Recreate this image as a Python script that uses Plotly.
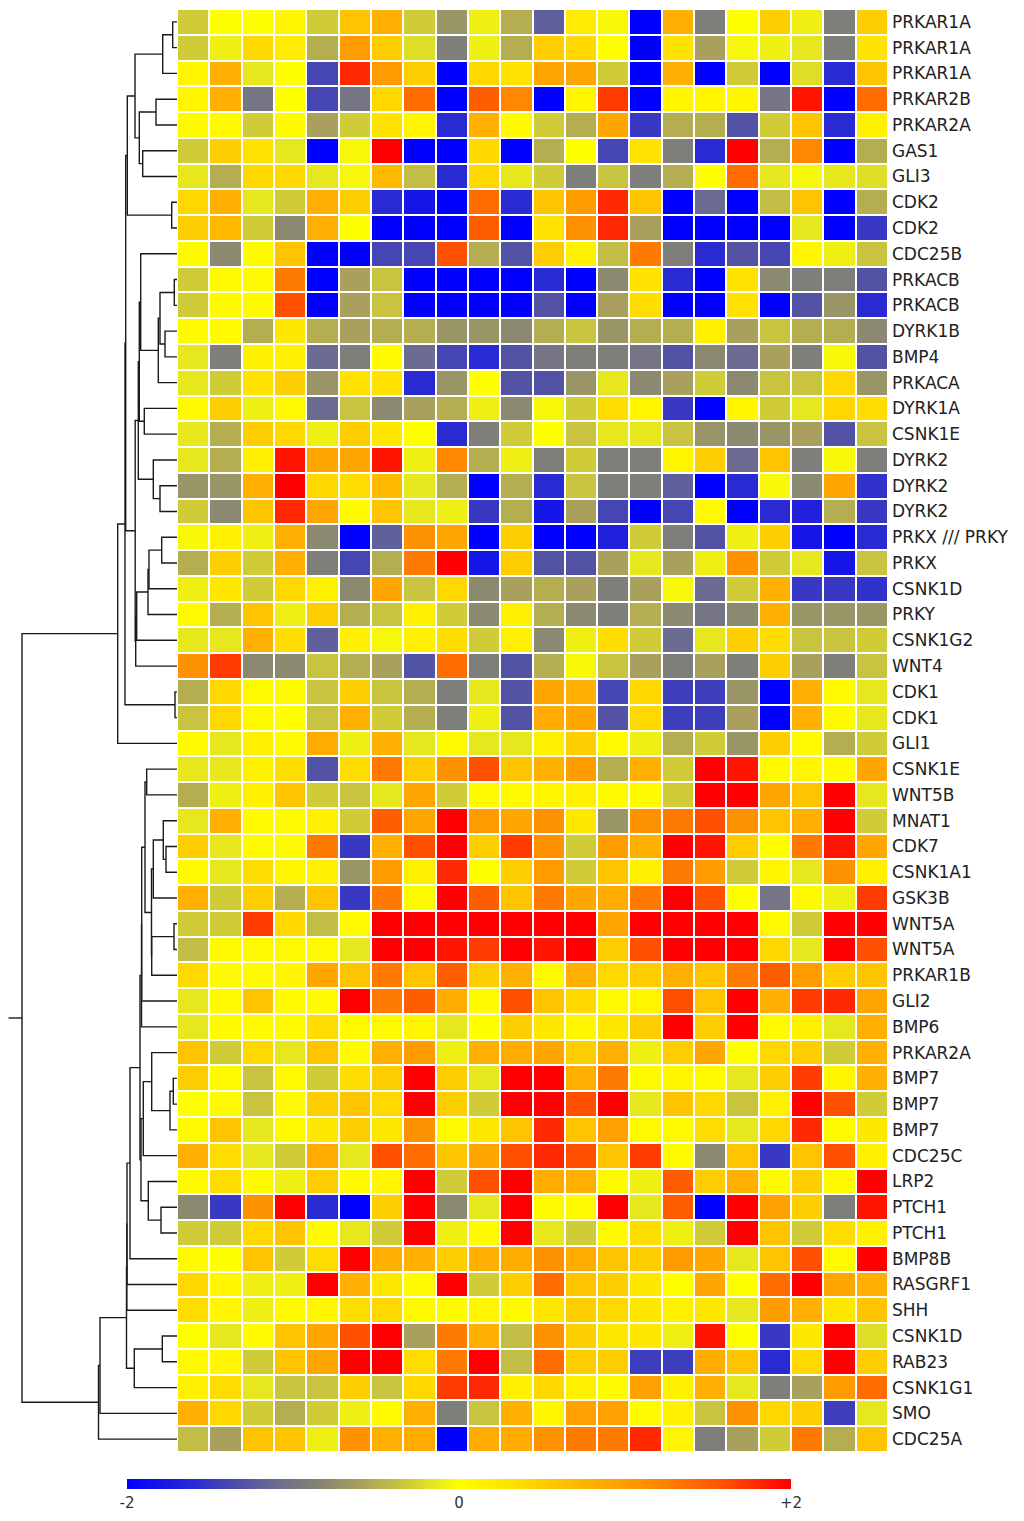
import plotly.graph_objects as go

# ---------------- data ----------------
GENES = ["PRKAR1A", "PRKAR1A", "PRKAR1A", "PRKAR2B", "PRKAR2A", "GAS1", "GLI3", "CDK2", "CDK2",
         "CDC25B", "PRKACB", "PRKACB", "DYRK1B", "BMP4", "PRKACA", "DYRK1A", "CSNK1E", "DYRK2",
         "DYRK2", "DYRK2", "PRKX /// PRKY", "PRKX", "CSNK1D", "PRKY", "CSNK1G2", "WNT4", "CDK1",
         "CDK1", "GLI1", "CSNK1E", "WNT5B", "MNAT1", "CDK7", "CSNK1A1", "GSK3B", "WNT5A", "WNT5A",
         "PRKAR1B", "GLI2", "BMP6", "PRKAR2A", "BMP7", "BMP7", "BMP7", "CDC25C", "LRP2", "PTCH1",
         "PTCH1", "BMP8B", "RASGRF1", "SHH", "CSNK1D", "RAB23", "CSNK1G1", "SMO", "CDC25A"]

SAMPLES = list(range(22))

Z = [
    [-0.3, 0, 0, 0.1, -0.3, 0.6, 0.8, -0.3, -0.7, -0.1, -0.5, -1.2, 0.2, -0.05, -2, 0.8, -0.9, 0, 0.5, -0.1, -0.9, 0.5],
    [-0.3, -0.1, 0.4, 0.2, -0.5, 1.0, 0.5, -0.2, -0.9, -0.1, -0.5, 0.5, 0.4, 0, -2, 0.3, -0.6, -0.05, -0.1, -0.15, -0.9, 0.3],
    [0.1, 0.8, -0.15, 0, -1.4, 1.8, 1.0, 0.5, -2, 0.4, 0.3, 0.9, 0.9, -0.3, -2, 0.8, -2, -0.3, -2, -0.2, -1.6, 0.6],
    [0.1, 0.8, -1.0, 0, -1.4, -1.0, 0.4, 1.4, -2, 1.5, 1.2, -2, 0.1, 1.7, -2, 0.1, 0.1, 0.1, -1.0, 1.9, -2, 1.4],
    [0.05, 0.05, -0.3, 0.05, -0.6, -0.3, 0.3, 0.1, -1.6, 0.8, 0.05, -0.3, -0.5, 0.9, -1.5, -0.5, -0.5, -1.3, -0.3, 0.6, -1.6, 0.15],
    [-0.3, 0.5, 0.3, -0.15, -2, -0.05, 2.0, -2, -2, 0.4, -2, -0.5, 0, -1.4, 0.3, -0.9, -1.6, 2.0, -0.5, 1.2, -2, -0.5],
    [-0.15, -0.5, 0.4, 0.4, -0.15, -0.05, 0.7, -0.4, -1.6, 0.4, -0.15, -0.3, -0.9, -0.35, -0.9, -0.5, 0, 1.4, -0.15, -0.05, -0.15, -0.2],
    [0.4, 0.8, -0.15, -0.3, 0.8, 0.5, -1.6, -1.8, -2, 1.4, -1.6, 0.6, 1.0, 1.8, 0.6, -2, -1.1, -2, -0.4, 0.6, -2, -0.5],
    [0.5, 0.7, -0.3, -0.8, 0.8, 0, -2, -2, -2, 1.5, -2, 0.3, 1.1, 1.8, -0.6, -2, -2, -2, -2, -0.15, -2, -1.5],
    [0.05, -0.8, 0.05, 0.6, -2, -2, -1.4, -1.4, 1.6, -0.5, -1.3, 0.5, 0.15, -0.4, 1.3, -0.9, -1.6, -1.3, -1.4, 0.1, -0.1, -0.35],
    [-0.3, 0.05, 0.05, 1.3, -2, -0.6, -0.35, -2, -2, -2, -2, -1.6, -2, -0.8, 0.3, -1.6, -2, 0.3, -0.8, -0.9, -0.9, -1.3],
    [-0.3, 0.05, 0.05, 1.6, -2, -0.6, -0.35, -2, -2, -2, -2, -1.3, -2, -0.6, 0.35, -2, -2, 0.3, -2, -1.3, -0.7, -1.6],
    [0.05, 0.05, -0.5, 0.25, -0.5, -0.6, -0.5, -0.5, -0.7, -0.7, -0.8, -0.5, -0.35, -0.7, -0.5, -0.5, 0.15, -0.6, -0.35, -0.5, -0.5, -0.8],
    [-0.15, -0.9, 0.15, 0.15, -1.1, -0.9, 0.05, -1.1, -1.4, -1.6, -1.3, -1.0, -0.9, -0.9, -1.0, -1.3, -0.8, -1.1, -0.6, -0.9, -0.05, -1.3],
    [-0.15, -0.3, 0.3, 0.5, -0.7, 0.3, 0.3, -1.6, -0.7, 0, -1.3, -1.3, -0.7, -0.15, -0.8, -0.6, -0.3, -0.8, -0.35, -0.35, 0.4, -0.7],
    [0.05, 0.5, -0.1, 0.05, -1.1, -0.35, -0.8, -0.6, -0.5, -0.1, -0.8, -0.05, -0.3, 0.35, 0.1, -1.5, -2, 0.1, -0.3, -0.15, 0.4, 0.35],
    [-0.15, -0.5, 0.5, 0.4, -0.1, 0.5, 0.25, 0, -1.6, -0.9, -0.3, 0, -0.35, -0.15, -0.15, -0.35, -0.7, -0.8, -0.7, -0.6, -1.3, -0.35],
    [-0.15, -0.5, 0.15, 1.9, 0.9, 0.9, 1.9, -0.1, 1.2, -0.5, -0.1, -0.9, -0.3, -0.9, -0.9, 0.1, 0.5, -1.1, 0.6, -0.9, -0.05, -0.9],
    [-0.7, -0.7, 0.8, 2.0, 0.4, 0.35, 0.7, -0.15, -0.5, -2, -0.5, -1.6, -0.35, -0.9, -0.9, -1.2, -2, -1.6, -0.05, -0.8, 0.9, -1.55],
    [-0.3, -0.8, 0.6, 1.8, 0.9, 0.05, 0.6, -0.15, -0.1, -1.5, -0.5, -1.8, -0.6, -1.4, -2, -1.4, 0.05, -2, -1.6, -1.7, -0.5, -1.5],
    [-0.05, 0.15, -0.1, 0.8, -0.8, -2, -1.2, 1.1, 0.9, -2, 0.5, -2, -2, -1.7, -0.3, -0.9, -1.3, -0.1, 0.5, -1.8, -2, -1.6],
    [-0.5, 0.5, -0.3, 0.8, -0.9, -1.4, -0.5, 1.3, 2.0, -1.8, 0.5, -1.3, -1.3, -0.6, -0.15, -0.6, -0.1, 1.1, -0.3, -0.15, -1.8, -0.35],
    [-0.1, 0.25, -0.3, 0.4, 0.15, -0.8, 0.9, -0.35, 0.4, -0.8, -0.6, -0.5, -0.6, -0.9, -0.6, -0.05, -1.1, -0.3, 0.8, -1.5, -1.5, -1.55],
    [0.05, -0.5, 0.6, -0.1, 0.5, -0.5, -0.35, 0.15, -0.3, -0.8, 0.15, -0.5, -0.8, -0.9, -0.5, -0.8, -1.0, -0.8, 0.8, -0.7, -0.7, -0.7],
    [-0.15, -0.15, 0.8, 0.35, -1.2, 0.15, -0.05, 0.15, 0.35, -0.3, 0.15, -0.8, -0.1, 0.35, -0.3, -1.1, -0.15, 0.5, 0.35, -0.35, -0.35, -0.3],
    [1.1, 1.7, -0.8, -0.8, -0.35, -0.5, -0.6, -1.3, 1.4, -0.9, -1.3, -0.5, -0.05, -0.35, -0.6, -0.9, -0.6, -0.9, 0.5, -0.6, -0.9, -0.35],
    [-0.5, 0.4, 0.05, 0.05, -0.35, 0.5, -0.35, -0.5, -0.9, -0.15, -1.3, 0.9, 0.8, -1.4, 0.4, -1.45, -1.45, -0.7, -2, 0.8, 0.05, -0.15],
    [-0.35, 0.4, 0.05, 0, -0.35, 0.8, -0.3, -0.5, -0.9, -0.1, -1.3, 0.85, 0.9, -1.3, 0.4, -1.45, -1.45, -0.6, -2, 0.8, 0.05, -0.15],
    [0.05, -0.15, 0.15, 0.05, 0.85, -0.1, 0.8, -0.15, 0.05, -0.15, -0.15, 0.15, 0.5, 0.05, -0.1, -0.5, -0.3, -0.7, 0.5, 0.05, -0.5, -0.3],
    [-0.15, -0.15, 0.15, 0.35, -1.3, 0.35, 1.3, 0.5, 1.1, 1.6, 0.6, 0.8, 1.0, -0.5, 0.8, -0.3, 2.0, 1.9, 0.05, 0.1, 0.05, 0.9],
    [-0.5, -0.1, 0.15, 0.6, -0.3, -0.35, -0.15, 0.9, -0.3, 0.05, 0.05, 0.1, 0.15, 0.05, 0.05, -0.3, 2.0, 2.0, 0.9, 0.6, 2.0, -0.15],
    [-0.15, 0.8, 0.05, 0.05, 0.15, -0.3, 1.5, 0.9, 2.0, 1.0, 0.9, 1.1, 0.25, -0.7, 1.1, 1.3, 1.6, 1.1, 0.6, 0.8, 2.0, -0.3],
    [0.5, -0.15, 0.05, 0.05, 1.3, -1.5, 0.8, 1.6, 2.0, 0.5, 1.7, 1.1, -0.3, 1.0, 0.8, 2.0, 1.9, 0.5, 0, 1.3, 1.9, 0.9],
    [0.05, -0.15, 0.35, 0.1, 0.15, -0.7, 1.0, 0.15, 1.8, 0, 0.5, 1.0, -0.3, 0.6, 0.15, 1.3, 1.0, -0.3, 0.1, -0.15, 1.1, 0.15],
    [0.8, -0.3, 0.5, -0.5, 0.6, -1.5, 1.3, 0.05, 2.0, 1.5, 0.6, 1.3, 0.9, 0.85, 1.3, 2.0, 1.6, 0, -1.0, 0.05, -0.1, 1.7],
    [-0.3, -0.3, 1.7, 0.4, -0.4, 0.05, 2, 2, 2, 2, 2, 2, 2, 0.9, 2, 2, 2, 2, 0.05, -0.3, 2, 2],
    [-0.4, 0.05, 0.05, 0.05, 0.05, -0.15, 2, 2, 1.9, 1.7, 2, 1.9, 2, 0.5, 1.6, 2, 2, 2, 0.4, -0.15, 2, 1.6],
    [0.4, 0.05, 0.05, 0.1, 0.9, 0.6, 1.3, 0.6, 1.5, 0.5, 0.8, 0.05, 0.8, 0.4, 0.5, 0.8, 0.6, 1.3, 1.5, 1.0, 0.5, 0.6],
    [-0.15, 0.05, 0.6, 0.05, 0.05, 2.0, 1.3, 1.5, 0.85, 0.05, 1.6, 0.6, 0.4, 0.05, 0.1, 1.6, 0.6, 2.0, 0.8, 1.7, 1.8, 0.9],
    [-0.15, 0.05, 0.05, 0.05, 0.35, 0.05, 0.05, 0.1, -0.15, 0, 0.5, 0.25, 0.1, 0.25, 0.5, 2.0, 0.5, 2.0, 0.05, 0.15, -0.15, 0.8],
    [0.6, -0.3, 0.4, -0.15, 0.6, 0.05, 0.8, 1.0, -0.1, 0.8, 0.85, 0.9, 0.5, 0.8, -0.1, 0.5, 0.9, 0, 0.4, 0.5, -0.3, 0.8],
    [0.5, 0.05, -0.35, 0.05, -0.3, 0.35, 0.5, 2.0, 0.5, -0.15, 2.0, 2.0, 0.8, 1.3, 0.05, 0.1, 0.05, -0.15, 0.5, 1.7, 0.1, 0.8],
    [0, 0.05, -0.35, 0.05, 0.5, 0.6, 0.4, 2.0, 0.5, -0.3, 2.0, 2.0, 1.6, 2.0, -0.15, 0.6, 0.4, -0.35, 0.15, 2.0, 1.6, -0.3],
    [0.05, 0.6, -0.15, 0.05, 0.25, 0.5, 0.25, 1.1, 0.05, 0.25, 0.6, 1.8, 0.6, 0.95, 0.05, 0.05, 0.35, -0.15, 0.4, 1.8, 0.05, 0.25],
    [0.8, 0.35, -0.15, -0.3, 0.85, -0.15, 1.6, 1.4, 0.6, 0.9, 1.6, 1.8, 1.6, 0.6, 1.7, 0.05, -0.8, 0.6, -1.5, 0.6, 1.6, 0.15],
    [0.05, 0.35, 0.05, -0.1, 0.5, 0.05, 0.1, 2.0, -0.3, 1.6, 2.0, 0.85, 0.8, 0.05, -0.1, 1.5, 0.5, 0.8, 0.05, 0.5, 0.05, 2.0],
    [-0.8, -1.5, 1.1, 2.0, -1.6, -2, 0.5, 2.0, -0.8, -0.15, 2.0, 0.05, 0.05, 2.0, -0.15, 1.5, -2, 2.0, 0.95, 0.5, -0.9, 1.9],
    [-0.3, -0.3, 0.4, 0.6, 0.05, -0.15, -0.3, 2.0, -0.1, 0.05, 2.0, -0.15, -0.3, 0.05, 0.35, -0.1, -0.3, 2.0, 0.6, -0.3, 0.35, 0.15],
    [0.05, 0, 0.6, -0.3, 0.35, 2.0, 0.8, 0.8, 0.5, 0.8, 0.85, 1.1, 0.85, 0.6, 0.5, 1.0, 0.9, -0.15, 0.6, 1.6, 0.05, 2.0],
    [0.4, 0.1, -0.1, -0.1, 2.0, 0.8, 0.25, 0.05, 2.0, -0.3, 0.5, 1.4, 0.6, 0.5, 0.25, 0, 0.9, 0, 1.4, 2.0, 0.9, 0.8],
    [0.35, 0.1, -0.1, 0.05, 0.1, 0.35, 0.4, 0.05, 0.05, 0.1, 0.05, 0.25, 0.5, 0.4, 0.25, 0.15, 0.25, -0.15, 1.0, 0.8, 0.25, 0.6],
    [0, -0.15, 0.05, 0.6, 0.9, 1.6, 2.0, -0.6, 1.3, 0.8, -0.4, 1.1, 0.5, 0.25, 0.25, -0.1, 1.9, 0, -1.5, 0.25, 2.0, -0.2],
    [0.05, 0.1, -0.3, 0.6, 0.9, 2.0, 2.0, 0.35, 1.3, 2.0, -0.4, 1.4, 0.5, 0.5, -1.45, -1.45, 0.85, 0.6, -1.6, 0.4, 2.0, 0.5],
    [0.15, 0.35, -0.15, -0.35, -0.35, 0.5, -0.35, 0.4, 1.7, 1.8, 0.15, 0.4, 0.15, 0.05, 0.95, 0.15, 0.8, -0.15, -0.9, -0.6, 1.0, 1.4],
    [0.8, 0.4, -0.3, -0.5, -0.3, -0.1, 0.05, 0.8, -0.9, -0.35, 0.8, 0.1, 0.95, 0.95, 0.05, 0.15, -0.35, 1.1, 0.4, 0.5, -1.45, -0.15],
    [-0.4, -0.6, 0.6, 0.6, -0.1, 1.1, 0.8, 0.85, -2, 0.85, 0.85, 1.1, 1.3, 1.3, 1.8, 0.1, -0.9, -0.6, -0.3, 1.3, -0.5, 0.6],
]

# Dendrogram merges: (node name, left child, right child, merge distance).
# Leaves are referenced by 0-based row index.
MERGES = [
    ("n12", 0, 1, 4.3), ("nA", "n12", 2, 14.3),
    ("n45", 3, 4, 21.0), ("n67", 5, 6, 34.3), ("nB", "n45", "n67", 37.7),
    ("nAB", "nA", "nB", 42.0), ("n89", 7, 8, 5.3), ("nP1", "nAB", "n89", 49.7),
    ("n1112", 10, 11, 2.7), ("n1314", 12, 13, 12.0), ("nC1", "n1112", "n1314", 17.0),
    ("nC2", "nC1", 14, 18.7), ("nC3", 9, "nC2", 36.3), ("n1617", 15, 16, 32.7),
    ("nC5", "nC3", "n1617", 37.7), ("n1920", 18, 19, 17.0), ("nDY", 17, "n1920", 23.7),
    ("nC6", "nC5", "nDY", 38.7), ("n2122", 20, 21, 15.3), ("nX1", "n2122", 22, 28.0),
    ("nX", "nX1", 23, 29.0), ("nR2", "nX", 24, 40.3), ("nR3", "nR2", 25, 41.3),
    ("nR", "nC6", "nR3", 41.8), ("nT1", "nP1", "nR", 51.3), ("n2728", 26, 27, 2.0),
    ("nT", "nT1", "n2728", 52.0), ("nTop", "nT", 28, 59.3),
    ("n3031", 29, 30, 30.3), ("n3334", 32, 33, 11.0), ("nL2", 31, "n3334", 13.7),
    ("nL3", "nL2", 34, 23.7), ("n3637", 35, 36, 3.0), ("nW", "n3637", 37, 25.3),
    ("nL4", "nL3", "nW", 25.5), ("nU38", "n3031", "nL4", 32.0), ("nU39", "nU38", 38, 35.3),
    ("nU40", "nU39", 39, 35.5), ("n4243", 41, 42, 3.7), ("n44", "n4243", 43, 7.0),
    ("nLB1", 40, "n44", 25.3), ("nLB2", "nLB1", 44, 33.7), ("n4748", 46, 47, 16.0),
    ("nLB3", 45, "n4748", 28.7), ("nLB", "nLB2", "nLB3", 36.0), ("nM0", "nU40", "nLB", 37.0),
    ("nM1", "nM0", 48, 47.0), ("nN1", "nM1", 49, 50.0), ("nN2", "nN1", 50, 50.2),
    ("n5253", 51, 52, 14.7), ("n54", "n5253", 53, 42.7), ("nN3", "nN2", "n54", 50.5),
    ("nB1", "nN3", 54, 77.0), ("nB2", "nB1", 55, 78.5),
    ("root", "nTop", "nB2", 155.0),
]
ROOT_TAIL = 168.5

CB_TICKVALS = [-2, 0, 2]
CB_TICKTEXT = ["-2", "0", "+2"]

# ---------------- layout geometry (page pixels; the page body adds an 8px offset) ----------------
PAGE_OFF = 8
W, H = 1024 - 2 * PAGE_OFF, 1521 - 2 * PAGE_OFF
HM_LEFT, HM_RIGHT = 177 - PAGE_OFF, 888 - PAGE_OFF
HM_TOP, HM_BOTTOM = 9 - PAGE_OFF, 1452 - PAGE_OFF
CB_LEFT, CB_RIGHT, CB_TOP = 127 - PAGE_OFF, 791 - PAGE_OFF, 1479 - PAGE_OFF

COLORSCALE = [
    [0.0, "#0000ff"], [0.1, "#2a2ad2"], [0.17, "#5050a8"], [0.22, "#6a6a94"],
    [0.28, "#808078"], [0.35, "#a8a05c"], [0.42, "#ccc83c"], [0.47, "#ecec18"],
    [0.5, "#ffff00"], [0.58, "#ffe000"], [0.65, "#ffc400"], [0.72, "#ffa800"],
    [0.8, "#ff8800"], [0.9, "#ff5000"], [1.0, "#ff0000"],
]

assert len(Z) == len(GENES) and all(len(r) == len(SAMPLES) for r in Z)

# ---------------- dendrogram segments ----------------
pos = {}


def get(ref):
    if isinstance(ref, int):
        return float(ref), 0.0
    return pos[ref]


dx, dy = [], []
for name, a, b, h in MERGES:
    ya, ha = get(a)
    yb, hb = get(b)
    dx += [ha, h, h, hb, None]
    dy += [ya, ya, yb, yb, None]
    pos[name] = ((ya + yb) / 2.0, h)
ry, rh = pos["root"]
dx += [rh, ROOT_TAIL, None]
dy += [ry, ry, None]

fig = go.Figure()
fig.add_trace(go.Heatmap(
    z=Z, x=SAMPLES, y=list(range(len(GENES))),
    colorscale=COLORSCALE, zmin=-2, zmax=2,
    xgap=2, ygap=2, hoverongaps=False,
    colorbar=dict(
        orientation="h", x=((CB_LEFT + CB_RIGHT) / 2) / W, xanchor="center",
        len=(CB_RIGHT - CB_LEFT) / W, lenmode="fraction",
        y=1 - CB_TOP / H, yanchor="top", thickness=10, xpad=0, ypad=0,
        outlinewidth=0, ticks="",
        tickvals=CB_TICKVALS, ticktext=CB_TICKTEXT,
        tickfont=dict(family="DejaVu Sans", size=15, color="#333333"),
    ),
))
fig.add_trace(go.Scatter(
    x=dx, y=dy, xaxis="x2", yaxis="y", mode="lines",
    line=dict(color="#1a1a1a", width=1.4), hoverinfo="skip", showlegend=False,
))

# x2: distance 0 at the heatmap edge, increasing leftwards, 1 unit = 1 px
fig.update_layout(
    width=W, height=H, margin=dict(l=0, r=0, t=0, b=0, autoexpand=False),
    paper_bgcolor="white", plot_bgcolor="white", showlegend=False,
    xaxis=dict(domain=[HM_LEFT / W, HM_RIGHT / W], range=[-0.5, len(SAMPLES) - 0.5],
               showticklabels=False, showgrid=False, zeroline=False, ticks="",
               automargin=False),
    yaxis=dict(domain=[1 - HM_BOTTOM / H, 1 - HM_TOP / H],
               range=[len(GENES) - 0.5, -0.5], side="right",
               tickvals=list(range(len(GENES))), ticktext=GENES, ticks="",
               ticklabelstandoff=3, automargin=False,
               tickfont=dict(family="DejaVu Sans", size=17, color="#222222"),
               showgrid=False, zeroline=False),
    xaxis2=dict(domain=[0, HM_LEFT / W], range=[HM_LEFT, 0], anchor="y",
                showticklabels=False, showgrid=False, zeroline=False, ticks="",
                automargin=False),
)

fig.write_html("out.html")
